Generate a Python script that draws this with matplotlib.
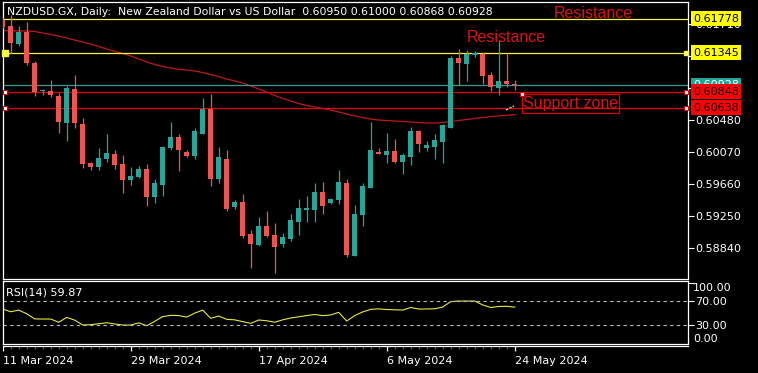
import matplotlib
matplotlib.use('Agg')
import matplotlib.pyplot as plt
import matplotlib.transforms as mtransforms
from matplotlib.patches import Rectangle
import numpy as np

# daily bars NZDUSD, 11 Mar 2024 .. 24 May 2024 (sunday bars included)
opens = [0.61763, 0.61687, 0.61456, 0.61614, 0.61217, 0.60851, 0.60855, 0.60791, 0.60449, 0.60880,
         0.60432, 0.59933, 0.59886, 0.59984, 0.60048, 0.59920, 0.59715, 0.59754, 0.59856, 0.59502,
         0.59655, 0.60125, 0.60266, 0.60074, 0.60023, 0.60308, 0.60628, 0.59732, 0.59984, 0.59374,
         0.59438, 0.59024, 0.58887, 0.59127, 0.59011, 0.58896, 0.58960, 0.59182, 0.59331, 0.59331,
         0.59562, 0.59421, 0.59459, 0.59673, 0.58743, 0.59267, 0.59617, 0.60078, 0.60039, 0.60087,
         0.59946, 0.60014, 0.60343, 0.60129, 0.60138, 0.60202, 0.60385, 0.61277, 0.61200, 0.61312,
         0.61332, 0.61056, 0.60897, 0.60983, 0.60950]
highs = [0.61790, 0.61824, 0.61687, 0.61738, 0.61239, 0.60884, 0.60995, 0.60825, 0.60923, 0.61059,
         0.60505, 0.59950, 0.60125, 0.60300, 0.60099, 0.60035, 0.59886, 0.59895, 0.59920, 0.59724,
         0.60151, 0.60458, 0.60300, 0.60099, 0.60381, 0.60765, 0.60812, 0.60138, 0.60099, 0.59463,
         0.59536, 0.59075, 0.59238, 0.59322, 0.59161, 0.59033, 0.59280, 0.59468, 0.59511, 0.59681,
         0.59690, 0.59476, 0.59843, 0.59728, 0.59399, 0.59681, 0.60462, 0.60125, 0.60313, 0.60240,
         0.60061, 0.60390, 0.60355, 0.60215, 0.60304, 0.60432, 0.61307, 0.61392, 0.61379, 0.61367,
         0.61358, 0.61102, 0.61507, 0.61337, 0.61000]
lows = [0.61661, 0.61345, 0.61435, 0.61191, 0.60794, 0.60807, 0.60782, 0.60321, 0.60219, 0.60377,
        0.59873, 0.59843, 0.59843, 0.59950, 0.59856, 0.59553, 0.59651, 0.59745, 0.59387, 0.59425,
        0.59515, 0.60099, 0.59835, 0.60014, 0.59988, 0.60298, 0.59642, 0.59681, 0.59319, 0.59348,
        0.58969, 0.58595, 0.58871, 0.58990, 0.58521, 0.58862, 0.58935, 0.59011, 0.59182, 0.59182,
        0.59284, 0.59412, 0.59412, 0.58734, 0.58737, 0.59131, 0.59607, 0.60048, 0.59937, 0.59929,
        0.59792, 0.59911, 0.60074, 0.60090, 0.59988, 0.59933, 0.60377, 0.60931, 0.60987, 0.61294,
        0.60944, 0.60855, 0.60803, 0.60910, 0.60868]
closes = [0.61678, 0.61473, 0.61614, 0.61217, 0.60846, 0.60871, 0.60807, 0.60462, 0.60897, 0.60449,
          0.59920, 0.59886, 0.59997, 0.60057, 0.59911, 0.59715, 0.59767, 0.59856, 0.59502, 0.59677,
          0.60138, 0.60266, 0.60099, 0.60023, 0.60343, 0.60628, 0.59732, 0.60010, 0.59348, 0.59438,
          0.58999, 0.58896, 0.59127, 0.58999, 0.58862, 0.58986, 0.59203, 0.59357, 0.59357, 0.59562,
          0.59387, 0.59468, 0.59690, 0.58755, 0.59280, 0.59639, 0.60099, 0.60052, 0.60087, 0.59942,
          0.60035, 0.60343, 0.60176, 0.60163, 0.60227, 0.60423, 0.61277, 0.61213, 0.61328, 0.61345,
          0.61047, 0.60910, 0.60983, 0.60948, 0.60928]
ma = [0.61627, 0.61625, 0.61624, 0.61623, 0.61616, 0.61597, 0.61578, 0.61559, 0.61533, 0.61507,
      0.61482, 0.61456, 0.61424, 0.61392, 0.61360, 0.61335, 0.61303, 0.61264, 0.61226, 0.61194,
      0.61168, 0.61149, 0.61130, 0.61123, 0.61111, 0.61091, 0.61066, 0.61040, 0.61008, 0.60983,
      0.60957, 0.60919, 0.60880, 0.60842, 0.60797, 0.60759, 0.60727, 0.60695, 0.60669, 0.60650,
      0.60631, 0.60611, 0.60586, 0.60560, 0.60535, 0.60515, 0.60496, 0.60483, 0.60477, 0.60471,
      0.60464, 0.60458, 0.60451, 0.60445, 0.60445, 0.60451, 0.60464, 0.60477, 0.60490, 0.60503,
      0.60515, 0.60528, 0.60535, 0.60544, 0.60551]
rsi = [56.7, 52.3, 55.0, 49.0, 40.5, 40.3, 40.3, 35.0, 43.0, 38.5,
       30.5, 31.0, 32.5, 34.2, 32.1, 30.4, 30.4, 34.0, 29.3, 36.5,
       44.3, 46.4, 46.0, 43.5, 50.0, 55.0, 41.4, 45.2, 39.8, 39.0,
       36.0, 33.2, 38.7, 37.5, 35.0, 39.0, 42.0, 44.0, 46.0, 47.8,
       45.8, 47.0, 51.3, 37.0, 46.0, 52.0, 56.2, 57.0, 56.0, 55.5,
       55.1, 59.3, 56.7, 56.9, 57.2, 60.0, 69.0, 69.9, 69.9, 69.9,
       63.5, 59.3, 61.0, 61.2, 59.87]

date_labels = ['11 Mar 2024', '29 Mar 2024', '17 Apr 2024', '6 May 2024', '24 May 2024']
date_pos = [0, 16, 32, 48, 64]
price_ticks = [0.58840, 0.59250, 0.59660, 0.60070, 0.60480, 0.60890, 0.61300, 0.61710]

resist_top = 0.61778
resist_low = 0.61345
support_hi = 0.60848
support_lo = 0.60638
last_price = 0.60928

BULL = '#26a69a'
BEAR = '#ef5350'
RED = '#e00000'
YEL = '#f5f542'

W, H = 758, 373
fig = plt.figure(figsize=(W / 100, H / 100), dpi=100, facecolor='black')


def rect(x0, y0, x1, y1):
    # pixel box, origin top-left -> figure fraction
    return [x0 / W, 1 - y1 / H, (x1 - x0) / W, (y1 - y0) / H]


ax = fig.add_axes(rect(3, 2, 688, 279), facecolor='black')
ax_rsi = fig.add_axes(rect(3, 281, 688, 344), facecolor='black')
ax_t = fig.add_axes(rect(3, 346, 688, 352), facecolor='black')

x = np.arange(len(opens))
o = np.array(opens); c = np.array(closes)
for a in (ax, ax_rsi, ax_t):
    a.set_xlim(0.0375, 85.66)
    for s in a.spines.values():
        s.set_color('white')
        s.set_linewidth(0.9)
    a.tick_params(axis='x', bottom=False, labelbottom=False)

# candles
cols = np.where(c >= o, BULL, BEAR)
ax.vlines(x, lows, highs, colors=cols, lw=0.9, zorder=3)
ax.bar(x, np.maximum(np.abs(c - o), 0.00013), bottom=np.minimum(o, c), width=0.62,
       color=cols, lw=0, zorder=3)
ax.plot(x, ma, color='#c01818', lw=0.9, zorder=2)

ax.axhline(resist_top, color=YEL, lw=0.9, zorder=2)
ax.axhline(resist_low, color=YEL, lw=0.9, zorder=2)
ax.axhline(last_price, color='#3a9a94', lw=0.9, zorder=2)
ax.axhline(support_hi, color=RED, lw=0.9, zorder=2)
ax.axhline(support_lo, color=RED, lw=0.9, zorder=2)
ax.plot([62.9, 63.9], [0.60611, 0.60663], color=YEL, lw=0.9, ls=(0, (2, 1)), zorder=4)

# object handles
ax.plot([0.29, 85.4], [support_hi] * 2, ls='none', marker='s', ms=3.5, mfc='white', mec=RED,
        mew=0.8, clip_on=False, zorder=6)
ax.plot([0.29, 85.4], [support_lo] * 2, ls='none', marker='s', ms=3.5, mfc='white', mec=RED,
        mew=0.8, clip_on=False, zorder=6)
ax.plot([0.29], [resist_low], ls='none', marker='s', ms=4.5, mfc=YEL, mec=YEL, clip_on=False, zorder=6)
ax.plot([85.4], [resist_low], ls='none', marker='s', ms=3.5, mfc='#ffffc0', mec=YEL, clip_on=False, zorder=6)

ax.add_patch(Rectangle((64.91, 0.60569), 12.13, 0.00243, fill=False, ec=RED, lw=0.9, zorder=5))
ax.plot([64.91], [0.60812], ls='none', marker='s', ms=3.5, mfc='white', mec=RED, mew=0.8, zorder=6)
tf = dict(family='Liberation Sans', fontsize=11.5, color='#e01010')
ax.text(65.05, 0.60690, 'Support zone', va='center', zorder=6, **tf)
ax.text(68.9, 0.61787, 'Resistance', va='baseline', zorder=6, **tf)
ax.text(58.0, 0.61486, 'Resistance', va='baseline', zorder=6, **tf)

ax.text(0.0058, 0.964, 'NZDUSD.GX, Daily:  New Zealand Dollar vs US Dollar  0.60950 0.61000 0.60868 0.60928',
        transform=ax.transAxes, color='white', fontsize=7.8, va='center', ha='left')

# price scale
ax.set_ylim(0.58448, 0.61994)
ax.yaxis.tick_right()
ax.set_yticks(price_ticks)
ax.set_yticklabels(['%.5f' % p for p in price_ticks])
ax.tick_params(axis='y', colors='white', labelsize=8, length=4, width=0.8, pad=1)

tr = mtransforms.blended_transform_factory(ax.transAxes, ax.transData)
for val, fc, tc in [(resist_top, '#ffff00', 'black'), (resist_low, '#ffff00', 'black'),
                    (last_price, '#26a69a', 'white'), (support_hi, '#ff0000', 'black'),
                    (support_lo, '#ff0000', 'black')]:
    ax.text(1.0073, val, '%.5f' % val, transform=tr, color=tc, fontsize=8, va='center', ha='left',
            clip_on=False, zorder=10,
            bbox=dict(boxstyle='square,pad=0.22', fc=fc, ec='none'))

# RSI panel
ax_rsi.plot(x, rsi, color='#e8e840', lw=0.8)
for lvl in (70, 30):
    ax_rsi.axhline(lvl, color='#b8b8b8', lw=0.8, ls=(0, (3, 3)))
ax_rsi.set_ylim(-0.8, 102.9)
ax_rsi.yaxis.tick_right()
ax_rsi.set_yticks([30, 70, 100])
ax_rsi.set_yticklabels(['30.00', '70.00', ''])
ax_rsi.tick_params(axis='y', colors='white', labelsize=8, length=4, width=0.8, pad=1)
trr = mtransforms.blended_transform_factory(ax_rsi.transAxes, ax_rsi.transData)
ax_rsi.text(1.0073, 100, '100.00', transform=trr, color='white', fontsize=8, va='top', clip_on=False)
ax_rsi.text(1.0073, 0, '0.00', transform=trr, color='white', fontsize=8, va='bottom', clip_on=False)
ax_rsi.text(0.0044, 0.82, 'RSI(14) 59.87', transform=ax_rsi.transAxes, color='white', fontsize=8,
            va='center')

# time axis
for s in ('left', 'right', 'bottom'):
    ax_t.spines[s].set_visible(False)
ax_t.set_yticks([])
ax_t.set_ylim(0, 1)
trt = ax_t.get_xaxis_transform()
ax_t.vlines(x, 0.55, 1, colors='#6a6a6a', lw=0.7, transform=trt)
ax_t.vlines(date_pos, 0.1, 1, colors='white', lw=0.9, transform=trt)
for p, lab in zip(date_pos, date_labels):
    ax_t.text(p, -1.5, lab, transform=trt, color='white', fontsize=8, va='center', ha='left')

fig.savefig('out.png', dpi=100, facecolor='black')
